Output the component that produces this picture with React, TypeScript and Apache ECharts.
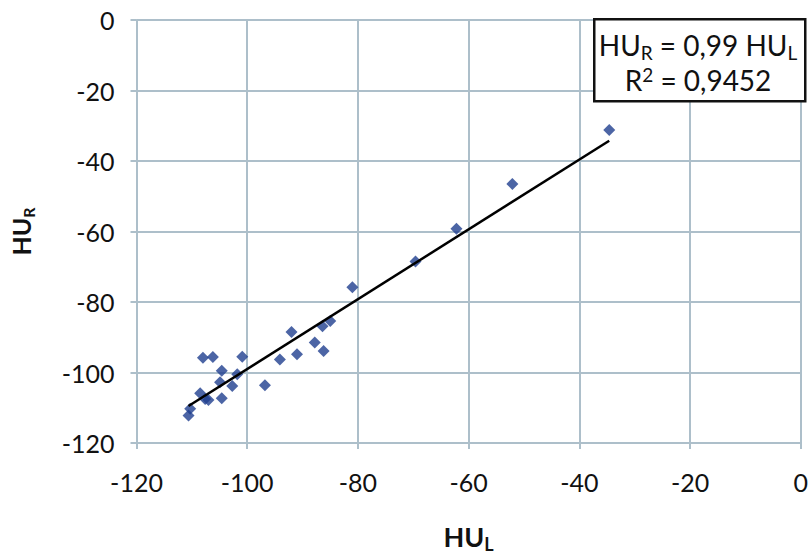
import React, { useEffect, useRef } from "react";
import * as echarts from "echarts";

const huL: number[] = [
  -34.6, -52.1, -62.2, -69.6, -81.0, -85.0, -86.4, -92.0, -87.8, -86.2,
  -91.0, -94.1, -108.0, -106.2, -100.9, -104.6, -101.8, -104.9, -102.7, -96.8,
  -108.5, -107.6, -107.0, -104.6, -110.3, -110.6,
];
const huR: number[] = [
  -31.2, -46.5, -59.2, -68.5, -75.8, -85.4, -86.9, -88.5, -91.5, -93.9,
  -94.8, -96.3, -95.8, -95.6, -95.5, -99.5, -100.5, -102.8, -103.8, -103.6,
  -105.9, -107.5, -107.8, -107.3, -110.3, -112.2,
];

// Trend line through origin: HU_R = 0.99 HU_L, R² = 0.9452
const trendSlope = 0.99;
const slopeLabel = "0,99";
const r2Label = "0,9452";

// Axis ticks
const axisMin = -120;
const axisMax = 0;
const axisStep = 20;

const FONT = "Lato, 'Open Sans', sans-serif";
const GRID_COLOR = "#adbfca";
const TEXT_COLOR = "#111111";

export default function App() {
  const ref = useRef<HTMLDivElement>(null);

  useEffect(() => {
    if (!ref.current) return;
    const chart = echarts.init(ref.current, undefined, { renderer: "svg" });

    const points = huL.map((x, i) => [x, huR[i]]);
    const xMinData = Math.min(...huL);
    const xMaxData = Math.max(...huL);
    const trend = [
      [xMinData, trendSlope * xMinData],
      [xMaxData, trendSlope * xMaxData],
    ];

    const axisCommon = {
      type: "value" as const,
      min: axisMin,
      max: axisMax,
      interval: axisStep,
      axisLine: { show: true, onZero: false, lineStyle: { color: GRID_COLOR, width: 2 } },
      axisTick: { show: true, length: 6, inside: false, lineStyle: { color: GRID_COLOR, width: 2 } },
      splitLine: { show: true, lineStyle: { color: GRID_COLOR, width: 2 } },
      axisLabel: { color: TEXT_COLOR, fontFamily: FONT, fontSize: 25 },
      nameLocation: "middle" as const,
    };

    chart.setOption({
      animation: false,
      backgroundColor: "#ffffff",
      grid: { left: 132, right: 5, top: 20, bottom: 112, containLabel: false },
      xAxis: {
        ...axisCommon,
        axisLabel: { ...axisCommon.axisLabel, margin: 26 },
        name: "{m|HU}{s|L}",
        nameGap: 76,
        nameTextStyle: {
          rich: {
            m: { fontFamily: FONT, fontWeight: "bold", fontSize: 27, color: TEXT_COLOR, lineHeight: 34 },
            s: { fontFamily: FONT, fontWeight: "bold", fontSize: 18, color: TEXT_COLOR, lineHeight: 16, verticalAlign: "bottom" },
          },
        },
      },
      yAxis: {
        ...axisCommon,
        axisLabel: { ...axisCommon.axisLabel, margin: 22 },
        name: "{m|HU}{s|R}",
        nameGap: 100,
        nameRotate: 90,
        nameTextStyle: {
          rich: {
            m: { fontFamily: FONT, fontWeight: "bold", fontSize: 25, color: TEXT_COLOR, lineHeight: 32 },
            s: { fontFamily: FONT, fontWeight: "bold", fontSize: 16, color: TEXT_COLOR, lineHeight: 14, verticalAlign: "bottom" },
          },
        },
      },
      series: [
        {
          type: "line",
          data: trend,
          symbol: "none",
          lineStyle: { color: "#000000", width: 2.5 },
          z: 3,
          silent: true,
        },
        {
          type: "scatter",
          data: points,
          symbol: "diamond",
          symbolSize: 12,
          itemStyle: { color: "#1f3f8f" },
          z: 2,
        },
      ],
      graphic: [
        {
          type: "rect",
          left: 593,
          top: 18,
          shape: { width: 211, height: 82 },
          style: { fill: "#ffffff", stroke: "#111111", lineWidth: 2.5 },
          z: 10,
        },
        {
          type: "text",
          x: 698,
          y: 45,
          z: 11,
          style: {
            text: `{m|HU}{s|R}{m| = ${slopeLabel} HU}{s|L}`,
            align: "center",
            verticalAlign: "middle",
            fontFamily: FONT,
            rich: {
              m: { fontFamily: FONT, fontSize: 28, fill: TEXT_COLOR, lineHeight: 34 },
              s: { fontFamily: FONT, fontSize: 19, fill: TEXT_COLOR, lineHeight: 14, verticalAlign: "bottom" },
            },
          },
        },
        {
          type: "text",
          x: 698,
          y: 80,
          z: 11,
          style: {
            text: `{m|R}{p|2}{m| = ${r2Label}}`,
            align: "center",
            verticalAlign: "middle",
            fontFamily: FONT,
            rich: {
              m: { fontFamily: FONT, fontSize: 28, fill: TEXT_COLOR, lineHeight: 30 },
              p: { fontFamily: FONT, fontSize: 19, fill: TEXT_COLOR, lineHeight: 14, verticalAlign: "top" },
            },
          },
        },
      ],
    });

    return () => chart.dispose();
  }, []);

  return (
    <div
      ref={ref}
      style={{ position: "fixed", left: 0, top: 0, width: 811, height: 558, background: "#fff" }}
    />
  );
}
